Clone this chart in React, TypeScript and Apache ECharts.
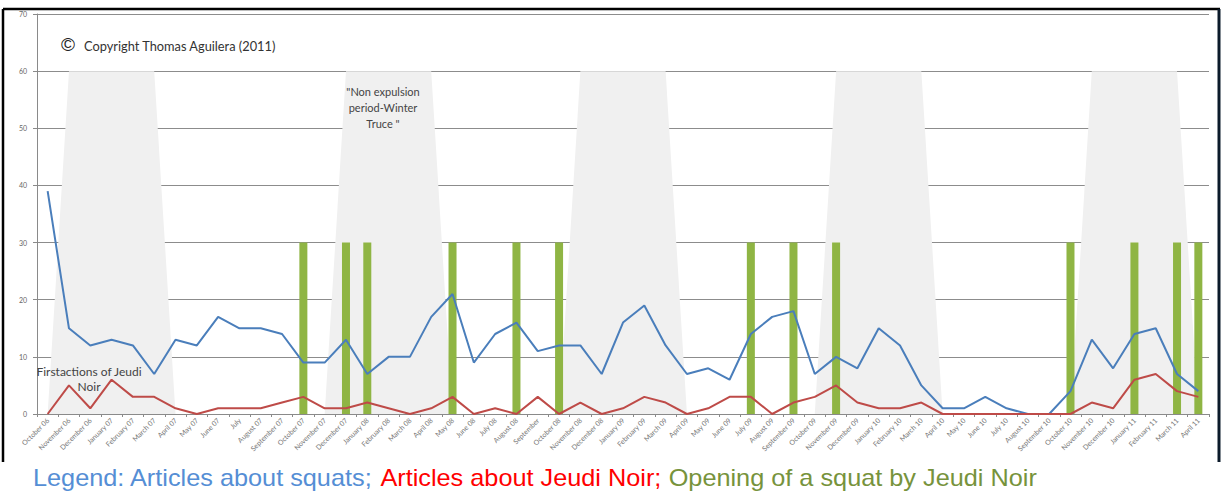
import React, { useEffect, useRef } from "react";
import * as echarts from "echarts";

const months = [
  "October 06", "November 06", "December 06",
  "January 07", "February 07", "March 07", "April 07", "May 07", "June 07", "July", "August 07", "September 07", "October 07", "November 07", "December 07",
  "January 08", "February 08", "March 08", "April 08", "May 08", "June 08", "July 08", "August 08", "September", "October 08", "November 08", "December 08",
  "January 09", "February 09", "March 09", "April 09", "May 09", "June 09", "July 09", "August 09", "September 09", "October 09", "November 09", "December 09",
  "January 10", "February 10", "March 10", "April 10", "May 10", "June 10", "July 10", "August 10", "September 10", "October 10", "November 10", "December 10",
  "January 11", "February 11", "March 11", "April 11",
];

const articlesSquats = [
  39, 15, 12,
  13, 12, 7, 13, 12, 17, 15, 15, 14, 9, 9, 13,
  7, 10, 10, 17, 21, 9, 14, 16, 11, 12, 12, 7,
  16, 19, 12, 7, 8, 6, 14, 17, 18, 7, 10, 8,
  15, 12, 5, 1, 1, 3, 1, 0, 0, 4, 13, 8,
  14, 15, 7, 4,
];

const articlesJeudiNoir = [
  0, 5, 1,
  6, 3, 3, 1, 0, 1, 1, 1, 2, 3, 1, 1,
  2, 1, 0, 1, 3, 0, 1, 0, 3, 0, 2, 0,
  1, 3, 2, 0, 1, 3, 3, 0, 2, 3, 5, 2,
  1, 1, 2, 0, 0, 0, 0, 0, 0, 0, 2, 1,
  6, 7, 4, 3,
];

const squatOpenings = [
  null, null, null,
  null, null, null, null, null, null, null, null, null, 30, null, 30,
  30, null, null, null, 30, null, null, 30, null, 30, null, null,
  null, null, null, null, null, null, 30, null, 30, null, 30, null,
  null, null, null, null, null, null, null, null, null, 30, null, null,
  30, null, 30, 30,
];

const winterTruce = [
  0, 60, 60,
  60, 60, 60, 0, 0, 0, 0, 0, 0, 0, 0, 60,
  60, 60, 60, 60, 0, 0, 0, 0, 0, 0, 60, 60,
  60, 60, 60, 0, 0, 0, 0, 0, 0, 0, 60, 60,
  60, 60, 60, 0, 0, 0, 0, 0, 0, 0, 60, 60,
  60, 60, 60, 0,
];

const yTicks = { min: 0, max: 70, interval: 10 };

export default function App() {
  const ref = useRef<HTMLDivElement>(null);
  useEffect(() => {
    if (!ref.current) return;
    const chart = echarts.init(ref.current, null, { renderer: "svg" });
    const legendFont = "Liberation Sans, Arial, sans-serif";
    chart.setOption({
      animation: false,
      backgroundColor: "#ffffff",
      grid: { left: 37, right: 19, top: 14, bottom: 79, containLabel: false },
      xAxis: {
        type: "category",
        data: months,
        boundaryGap: true,
        axisLine: { lineStyle: { color: "#8a8a8a", width: 1 } },
        axisTick: { show: true, length: 3, lineStyle: { color: "#8a8a8a" } },
        axisLabel: {
          interval: 0,
          rotate: 45,
          fontSize: 7,
          color: "#777777",
          fontFamily: "Lato, sans-serif",
          margin: 5,
        },
      },
      yAxis: {
        type: "value",
        min: yTicks.min,
        max: yTicks.max,
        interval: yTicks.interval,
        axisLine: { show: true, lineStyle: { color: "#8a8a8a", width: 1 } },
        axisTick: { show: true, length: 4, lineStyle: { color: "#8a8a8a" } },
        axisLabel: { fontSize: 7, color: "#666666", fontFamily: "Lato, sans-serif", margin: 10 },
        splitLine: { lineStyle: { color: "#8c8c8c", width: 1 } },
      },
      series: [
        {
          name: "Winter truce",
          type: "line",
          data: winterTruce,
          symbol: "none",
          lineStyle: { width: 0, opacity: 0 },
          areaStyle: { color: "#f0f0f0", opacity: 1 },
          z: 1,
          silent: true,
        },
        {
          name: "Opening of a squat by Jeudi Noir",
          type: "bar",
          data: squatOpenings,
          barWidth: 8,
          itemStyle: { color: "#8fb544" },
          z: 2,
        },
        {
          name: "Articles about squats",
          type: "line",
          data: articlesSquats,
          symbol: "none",
          lineStyle: { color: "#4a7ebb", width: 2 },
          z: 3,
        },
        {
          name: "Articles about Jeudi Noir",
          type: "line",
          data: articlesJeudiNoir,
          symbol: "none",
          lineStyle: { color: "#be4b48", width: 2 },
          z: 3,
        },
      ],
      graphic: [
        { type: "line", shape: { x1: 3, y1: 9, x2: 1220, y2: 9 }, style: { stroke: "#000", lineWidth: 2.5 }, z: 10 },
        { type: "line", shape: { x1: 3, y1: 9, x2: 3, y2: 462 }, style: { stroke: "#000", lineWidth: 2.5 }, z: 10 },
        { type: "line", shape: { x1: 1219, y1: 9, x2: 1219, y2: 462 }, style: { stroke: "#0b1a2a", lineWidth: 3 }, z: 10 },
        {
          type: "text", left: 61, top: 35, z: 10,
          style: { text: "©", fontSize: 19, fill: "#222", fontFamily: "Liberation Sans, Arial, sans-serif" },
        },
        {
          type: "text", left: 84, top: 39, z: 10,
          style: { text: "Copyright Thomas Aguilera (2011)", fontSize: 12.8, fill: "#333", fontFamily: "Lato, sans-serif" },
        },
        {
          type: "text", x: 383, y: 83, z: 10,
          style: {
            text: "\"Non expulsion\nperiod-Winter\nTruce \"",
            fontSize: 11, lineHeight: 16, fill: "#444", align: "center",
            fontFamily: "Lato, sans-serif",
          },
        },
        {
          type: "text", x: 89, y: 364, z: 10,
          style: {
            text: "Firstactions of Jeudi\nNoir",
            fontSize: 12, lineHeight: 15, fill: "#444", align: "center",
            fontFamily: "Lato, sans-serif",
          },
        },
        {
          type: "text", x: 33, y: 466, scaleX: 1.1, z: 10,
          style: {
            text: "{b|Legend: Articles about squats;} {r|Articles about Jeudi Noir;} {g|Opening of a squat by Jeudi Noir}",
            fontFamily: legendFont,
            fontSize: 23,
            rich: {
              b: { fill: "#558ed5", fontSize: 23, fontFamily: legendFont },
              r: { fill: "#ff0000", fontSize: 23, fontFamily: legendFont },
              g: { fill: "#77933c", fontSize: 23, fontFamily: legendFont },
            },
          },
        },
      ],
    });
    return () => chart.dispose();
  }, []);
  return (
    <div
      ref={ref}
      style={{ position: "fixed", left: 0, top: 0, width: 1228, height: 493, background: "#fff" }}
    />
  );
}
